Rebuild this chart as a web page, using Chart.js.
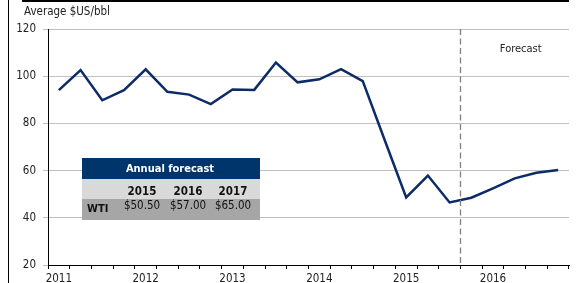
<!DOCTYPE html>
<html>
<head>
<meta charset="utf-8">
<script src="https://cdn.jsdelivr.net/npm/chart.js@4.4.1/dist/chart.umd.min.js"></script>
<style>
  html, body { margin: 0; padding: 0; background: #fff; }
  #wrap { width: 577px; height: 283px; }
</style>
</head>
<body>
<div id="wrap"><canvas id="myChart" width="577" height="283"></canvas></div>
<script>
var FONT = "'DejaVu Sans Condensed', 'Liberation Sans', sans-serif";

// quarterly WTI average price, 2011Q1 .. 2016Q4 (last 5 are forecast)
var quarters = ['2011Q1','2011Q2','2011Q3','2011Q4','2012Q1','2012Q2','2012Q3','2012Q4',
                '2013Q1','2013Q2','2013Q3','2013Q4','2014Q1','2014Q2','2014Q3','2014Q4',
                '2015Q1','2015Q2','2015Q3','2015Q4','2016Q1','2016Q2','2016Q3','2016Q4'];
var wtiPrice = [94.1, 102.6, 89.8, 94.1, 102.9, 93.4, 92.2, 88.2,
                94.4, 94.2, 105.8, 97.4, 98.7, 103.0, 97.9, 73.2,
                48.6, 57.9, 46.5, 48.5, 52.5, 56.7, 59.1, 60.3];
var forecastStart = '2015Q4';

var yTicks = [20, 40, 60, 80, 100, 120];

// annual forecast box
var tableTitle = 'Annual forecast';
var tableYears = ['2015', '2016', '2017'];
var tableRowLabel = 'WTI';
var tableValues = ['$50.50', '$57.00', '$65.00'];

var extrasPlugin = {
  id: 'extras',
  afterDraw: function(chart){
    var c = chart.ctx;
    var area = chart.chartArea;
    var xs = chart.scales.x;
    c.save();

    // page frame bits
    c.strokeStyle = '#000';
    c.lineWidth = 1;
    c.beginPath(); c.moveTo(8.5, 0); c.lineTo(8.5, 283); c.stroke();
    c.lineWidth = 2;
    c.beginPath(); c.moveTo(22, 1); c.lineTo(569, 1); c.stroke();

    // unit label
    c.fillStyle = '#222';
    c.font = '11.5px ' + FONT;
    c.textAlign = 'left';
    c.textBaseline = 'middle';
    c.fillText('Average $US/bbl', 24, 12);

    // forecast divider
    var idx = quarters.indexOf(forecastStart);
    var fx = Math.round((xs.getPixelForValue(idx - 1) + xs.getPixelForValue(idx)) / 2) + 0.5;
    c.strokeStyle = '#808080';
    c.lineWidth = 1.3;
    c.setLineDash([6, 3.5]);
    c.beginPath(); c.moveTo(fx, area.top); c.lineTo(fx, area.bottom + 2); c.stroke();
    c.setLineDash([]);
    c.textAlign = 'center';
    c.font = '11px ' + FONT;
    c.fillText('Forecast', (fx + area.right) / 2 + 6, 49);

    // table
    var tx = 82, tw = 178;
    c.fillStyle = '#00356b';
    c.fillRect(tx, 158, tw, 21);
    c.fillStyle = '#d9d9d9';
    c.fillRect(tx, 179, tw, 20);
    c.fillStyle = '#a6a6a6';
    c.fillRect(tx, 199, tw, 21);

    c.fillStyle = '#fff';
    c.font = 'bold 11px ' + FONT;
    c.fillText(tableTitle, 170, 169);

    var colX = [142, 188, 233];
    c.fillStyle = '#111';
    c.font = 'bold 11.5px ' + FONT;
    for (var i = 0; i < tableYears.length; i++) {
      c.fillText(tableYears[i], colX[i], 192);
    }
    c.font = '11.5px ' + FONT;
    for (i = 0; i < tableValues.length; i++) {
      c.fillText(tableValues[i], colX[i], 206);
    }
    c.font = 'bold 11px ' + FONT;
    c.textAlign = 'left';
    c.fillText(tableRowLabel, 87, 209);

    c.restore();
  }
};

var ctx = document.getElementById('myChart').getContext('2d');
var myChart = new Chart(ctx, {
  type: 'line',
  data: {
    labels: quarters,
    datasets: [{
      data: wtiPrice,
      borderColor: '#0d2b67',
      borderWidth: 2.5,
      pointRadius: 0,
      tension: 0,
      fill: false
    }]
  },
  options: {
    responsive: false,
    animation: false,
    layout: { padding: { top: 29, left: 0, right: 8, bottom: 0 } },
    plugins: { legend: { display: false }, tooltip: { enabled: false } },
    scales: {
      x: {
        type: 'category',
        offset: true,
        border: { color: '#000', width: 1 },
        grid: { offset: true, drawOnChartArea: false, color: '#000', tickLength: 4 },
        ticks: {
          autoSkip: false,
          maxRotation: 0,
          padding: 3,
          color: '#222',
          font: { family: FONT, size: 11.5 },
          callback: function(value, index){
            var q = quarters[index];
            return q.slice(4) === 'Q1' ? q.slice(0, 4) : '';
          }
        },
        afterFit: function(scale){ scale.height = 18; }
      },
      y: {
        min: 20,
        max: 120,
        border: { color: '#000', width: 1 },
        grid: { color: '#c0c0c0', tickLength: 5 },
        ticks: {
          stepSize: 20,
          padding: 7,
          color: '#222',
          font: { family: FONT, size: 11.5 }
        },
        afterBuildTicks: function(scale){
          scale.ticks = yTicks.map(function(v){ return { value: v }; });
        },
        afterFit: function(scale){ scale.width = 48; }
      }
    }
  },
  plugins: [extrasPlugin]
});
</script>
</body>
</html>
